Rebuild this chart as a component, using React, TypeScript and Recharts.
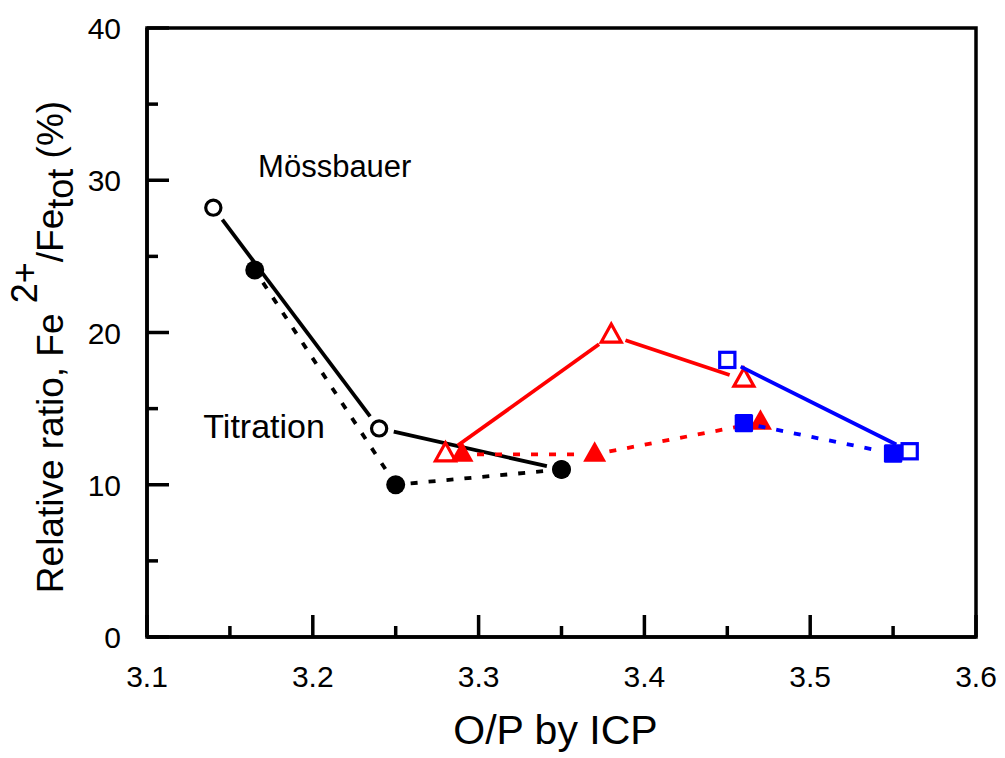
import React from 'react';
import { ComposedChart, Scatter, XAxis, YAxis, ReferenceArea, ReferenceDot } from 'recharts';

const FONT = '"Liberation Sans", Arial, Helvetica, sans-serif';

const xTicks = [3.1, 3.15, 3.2, 3.25, 3.3, 3.35, 3.4, 3.45, 3.5, 3.55, 3.6];
const yTicks = [0, 5, 10, 15, 20, 25, 30, 35, 40];

const mossBlackX = [3.14, 3.24, 3.35];
const mossBlackY = [28.2, 13.7, 11.0];
const titrBlackX = [3.165, 3.25, 3.35];
const titrBlackY = [24.1, 10.0, 11.0];
const mossRedX = [3.28, 3.38, 3.46];
const mossRedY = [12.0, 19.8, 16.9];
const titrRedX = [3.29, 3.37, 3.47];
const titrRedY = [12.0, 12.0, 14.1];
const mossBlueX = [3.45, 3.56];
const mossBlueY = [18.2, 12.2];
const titrBlueX = [3.46, 3.55];
const titrBlueY = [14.05, 12.05];

const annotationLabels = ['Mössbauer', 'Titration'];
const annotationX = [3.167, 3.134];
const annotationY = [30.2, 13.1];

const zip = (xs: number[], ys: number[]) => xs.map((x, i) => ({ x, y: ys[i] }));

const GAP = 15;

function makeLine(color: string, dashed: boolean) {
  return (props: any) => {
    const pts = (props.points || []) as { x: number; y: number }[];
    const segs: React.ReactNode[] = [];
    for (let i = 0; i < pts.length - 1; i++) {
      const a = pts[i];
      const b = pts[i + 1];
      const dx = b.x - a.x;
      const dy = b.y - a.y;
      const len = Math.sqrt(dx * dx + dy * dy);
      if (len <= 2 * GAP) continue;
      const ux = dx / len;
      const uy = dy / len;
      segs.push(
        <line
          key={i}
          x1={a.x + ux * GAP}
          y1={a.y + uy * GAP}
          x2={b.x - ux * GAP}
          y2={b.y - uy * GAP}
          stroke={color}
          strokeWidth={3.8}
          strokeDasharray={dashed ? '7 11' : undefined}
        />
      );
    }
    return <g>{segs}</g>;
  };
}

function makeShape(kind: 'circle' | 'triangle' | 'square', color: string, filled: boolean) {
  return (props: any) => {
    const { cx, cy } = props;
    if (cx == null || cy == null) return <g />;
    const fill = filled ? color : '#fff';
    const sw = filled ? 0 : 3.2;
    if (kind === 'circle') {
      return <circle cx={cx} cy={cy} r={filled ? 9.5 : 7.6} fill={fill} stroke={color} strokeWidth={sw} />;
    }
    if (kind === 'triangle') {
      const h = filled ? 11.5 : 10;
      const top = cy - (filled ? 13 : 11.5);
      const bot = cy + (filled ? 7.5 : 6.5);
      return (
        <path
          d={`M${cx},${top} L${cx + h},${bot} L${cx - h},${bot} Z`}
          fill={fill}
          stroke={color}
          strokeWidth={sw}
          strokeLinejoin="miter"
        />
      );
    }
    const s = filled ? 9.2 : 7.6;
    return <rect x={cx - s} y={cy - s} width={2 * s} height={2 * s} rx={filled ? 1.5 : 0} fill={fill} stroke={color} strokeWidth={sw} />;
  };
}

const XTick = (props: any) => {
  const { x, y, payload } = props;
  const v = payload.value as number;
  const major = Math.round(v * 100) % 10 === 0;
  return (
    <g>
      <line x1={x} y1={y} x2={x} y2={y - (major ? 22 : 11)} stroke="#000" strokeWidth={3.5} />
      {major && (
        <text x={x} y={y + 50} textAnchor="middle" fontSize={30} fontFamily={FONT} fill="#000">
          {v.toFixed(1)}
        </text>
      )}
    </g>
  );
};

const YTick = (props: any) => {
  const { x, y, payload } = props;
  const v = payload.value as number;
  const major = v % 10 === 0;
  return (
    <g>
      <line x1={x} y1={y} x2={x + (major ? 22 : 11)} y2={y} stroke="#000" strokeWidth={3.5} />
      {major && (
        <text x={x - 26} y={y + 11} textAnchor="end" fontSize={30} fontFamily={FONT} fill="#000">
          {String(v)}
        </text>
      )}
    </g>
  );
};

const XTitle = (props: any) => {
  const vb = props.viewBox || {};
  const cx = (vb.x ?? 147) + (vb.width ?? 829) / 2;
  return (
    <text x={cx - 6} y={744} textAnchor="middle" fontSize={41} fontFamily={FONT} fill="#000">
      O/P by ICP
    </text>
  );
};

const YTitle = () => {
  const x = 63;
  const y = 347;
  return (
    <text transform={`rotate(-90, ${x}, ${y})`} x={x} y={y} textAnchor="middle" fontSize={37} fontFamily={FONT} fill="#000">
      {'Relative ratio, Fe '}
      <tspan dy={-26} fontSize={36}>2+</tspan>
      <tspan dy={26}>/Fe</tspan>
      <tspan dy={10} fontSize={36}>tot</tspan>
      <tspan dy={-10}>{' (%)'}</tspan>
    </text>
  );
};

const annoLabel = (text: string, size: number) => (props: any) => {
  const vb = props.viewBox || {};
  return (
    <text x={vb.x} y={vb.y} textAnchor="start" fontSize={size} fontFamily={FONT} fill="#000">
      {text}
    </text>
  );
};

const annotationSizes = [31, 34];

const series = [
  { data: zip(mossBlackX, mossBlackY), color: '#000', kind: 'circle', filled: false, dashed: false },
  { data: zip(mossRedX, mossRedY), color: '#ff0000', kind: 'triangle', filled: false, dashed: false },
  { data: zip(mossBlueX, mossBlueY), color: '#0000ff', kind: 'square', filled: false, dashed: false },
  { data: zip(titrBlackX, titrBlackY), color: '#000', kind: 'circle', filled: true, dashed: true },
  { data: zip(titrRedX, titrRedY), color: '#ff0000', kind: 'triangle', filled: true, dashed: true },
  { data: zip(titrBlueX, titrBlueY), color: '#0000ff', kind: 'square', filled: true, dashed: true },
] as const;

export default function App() {
  return (
    <div style={{ position: 'absolute', left: 0, top: 0, width: 1005, height: 758, background: '#fff' }}>
      <ComposedChart
        width={1005}
        height={758}
        margin={{ top: 28, right: 29, left: 87, bottom: 61 }}
      >
        <XAxis
          type="number"
          dataKey="x"
          domain={[3.1, 3.6]}
          ticks={xTicks}
          interval={0}
          allowDataOverflow
          height={60}
          tickSize={0}
          tickMargin={0}
          tickLine={false}
          axisLine={{ stroke: '#000', strokeWidth: 3.5 }}
          tick={XTick}
          label={XTitle}
        />
        <YAxis
          type="number"
          dataKey="y"
          domain={[0, 40]}
          ticks={yTicks}
          interval={0}
          allowDataOverflow
          width={60}
          tickSize={0}
          tickMargin={0}
          tickLine={false}
          axisLine={{ stroke: '#000', strokeWidth: 3.5 }}
          tick={YTick}
          label={YTitle}
        />
        <ReferenceArea x1={3.1} x2={3.6} y1={0} y2={40} fill="none" stroke="#000" strokeWidth={3.5} fillOpacity={0} />
        {series.map((s, i) => (
          <Scatter
            key={i}
            data={s.data as any}
            isAnimationActive={false}
            line={makeLine(s.color, s.dashed)}
            lineType="joint"
            shape={makeShape(s.kind as any, s.color, s.filled)}
            fill={s.color}
            legendType="none"
          />
        ))}
        {annotationLabels.map((t, i) => (
          <ReferenceDot
            key={t}
            x={annotationX[i]}
            y={annotationY[i]}
            r={0}
            fill="none"
            stroke="none"
            label={annoLabel(t, annotationSizes[i])}
          />
        ))}
      </ComposedChart>
    </div>
  );
}
